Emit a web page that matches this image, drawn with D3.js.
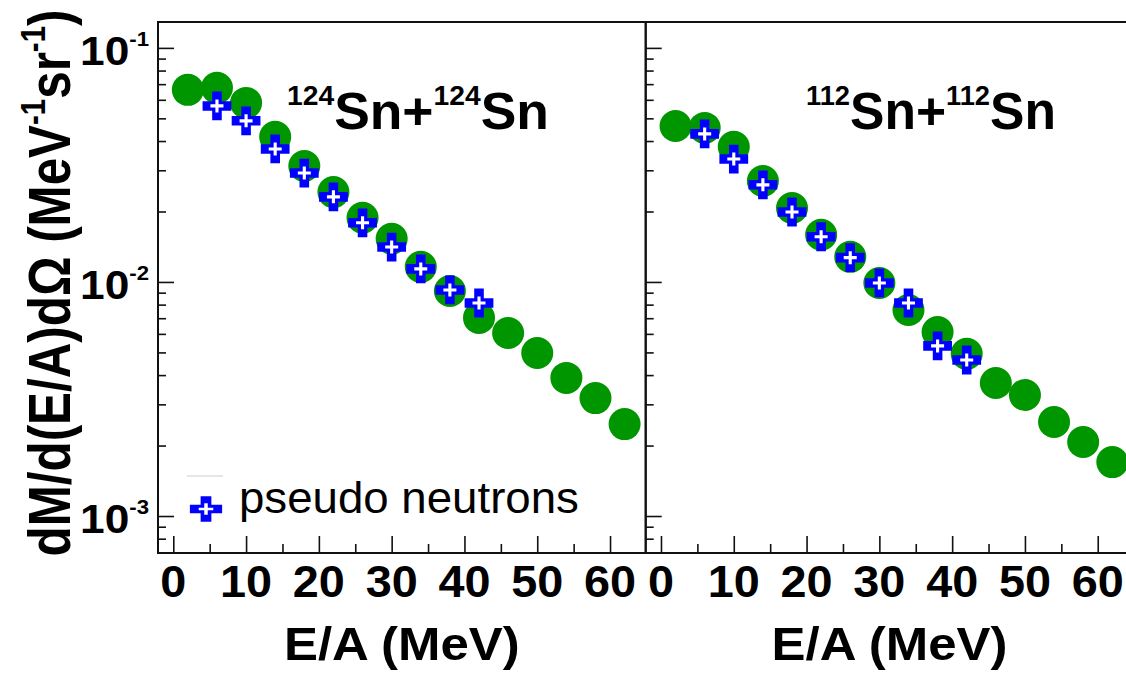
<!DOCTYPE html>
<html>
<head>
<meta charset="utf-8">
<script src="https://cdn.jsdelivr.net/npm/d3@7"></script>
<style>
  html, body { margin: 0; padding: 0; background: #fff; }
  svg { display: block; }
  text { font-family: "Liberation Sans", Arial, Helvetica, sans-serif; fill: #000; }
</style>
</head>
<body>
<script>
// Kinetic-energy bins (E/A, MeV) of the measured spectra and of the pseudo-neutron spectra
const energyBins = [2, 6, 10, 14, 18, 22, 26, 30, 34, 38, 42, 46, 50, 54, 58, 62];
const pseudoBins = [6, 10, 14, 18, 22, 26, 30, 34, 38, 42];

// dM/d(E/A)dΩ  (MeV^-1 sr^-1)
const sn124Yield  = [0.0662, 0.0675, 0.0582, 0.0417, 0.0313, 0.0242, 0.0188, 0.0153,
                     0.0116, 0.00915, 0.00702, 0.00605, 0.00497, 0.00389, 0.00319, 0.00247];
const sn124Pseudo = [0.0565, 0.0488, 0.0370, 0.0292, 0.0231, 0.0179, 0.0141, 0.01137,
                     0.00924, 0.00813];
const sn112Yield  = [0.0464, 0.0455, 0.0378, 0.0270, 0.0207, 0.0159, 0.0128, 0.00990,
                     0.00759, 0.00611, 0.00493, 0.00370, 0.00329, 0.00252, 0.00207, 0.00170];
const sn112Pseudo = [0.0429, 0.0335, 0.0260, 0.0199, 0.0156, 0.0127, 0.00990, 0.00813,
                     0.00533, 0.00464];

// Axis ticks and labels
const xTickValues = [0, 10, 20, 30, 40, 50, 60];
const xTickLabels = ["0", "10", "20", "30", "40", "50", "60"];
const yTickValues = [1e-1, 1e-2, 1e-3];
const yTickExponents = ["-1", "-2", "-3"];

// Reaction systems shown in the two panels
const systemMass = ["124", "112"];
const legendLabel = "pseudo neutrons";
const xTitle = "E/A (MeV)";

const width = 1126, height = 673;
const plotTop = 22, plotBottom = 553;
const panelWidth = 487.7;
const panelLeft = [158, 158 + panelWidth];
const green = "#009600", blue = "#0000ff";

const svg = d3.select("body").append("svg")
  .attr("width", width).attr("height", height)
  .attr("viewBox", `0 0 ${width} ${height}`);

const x = d3.scaleLinear().domain([-2.1, 64.9]).range([0, panelWidth]);
const y = d3.scaleLog().domain([6.95e-4, 0.129]).range([plotBottom, plotTop]);

// stretch a text element horizontally (about its anchor) to a given width
function fitText(sel, targetWidth, extra) {
  const w = sel.node().getBBox().width;
  sel.attr("transform", (extra || "") + ` scale(${targetWidth / w},1)`);
}

// thin plus drawn as a filled outline, used for the white centre of the cross markers
const thinPlus = {
  draw(ctx, size) {
    const r = Math.sqrt(size) / 2, t = r * 0.24;
    ctx.moveTo(-r, -t); ctx.lineTo(-t, -t); ctx.lineTo(-t, -r); ctx.lineTo(t, -r);
    ctx.lineTo(t, -t); ctx.lineTo(r, -t); ctx.lineTo(r, t); ctx.lineTo(t, t);
    ctx.lineTo(t, r); ctx.lineTo(-t, r); ctx.lineTo(-t, t); ctx.lineTo(-r, t);
    ctx.closePath();
  }
};
const crossPath = d3.symbol().type(d3.symbolCross).size(460)();
const plusPath = d3.symbol().type(thinPlus).size(169)();

// minor ticks of the log axis: 2..9 × each decade inside the domain
const yMinor = [];
[-4, -3, -2, -1].forEach(e => {
  for (let m = 2; m <= 9; m++) {
    const v = m * Math.pow(10, e);
    if (v > y.domain()[0] && v < y.domain()[1]) yMinor.push(v);
  }
});
const xMinor = d3.range(5, 60, 10);

const panels = [
  { yields: sn124Yield, pseudo: sn124Pseudo },
  { yields: sn112Yield, pseudo: sn112Pseudo }
];

panels.forEach((p, i) => {
  const g = svg.append("g").attr("transform", `translate(${panelLeft[i]},0)`);

  // axis ticks (pointing inward)
  const tickStyle = s => s.call(a => a.select(".domain").remove())
    .selectAll(".tick line").attr("stroke", "#111").attr("stroke-width", 1.6);

  g.append("g").attr("transform", `translate(0,${plotBottom})`)
    .call(d3.axisBottom(x).tickValues(xTickValues).tickSizeInner(-17).tickSizeOuter(0).tickFormat(""))
    .call(tickStyle);
  g.append("g").attr("transform", `translate(0,${plotBottom})`)
    .call(d3.axisBottom(x).tickValues(xMinor).tickSizeInner(-9).tickSizeOuter(0).tickFormat(""))
    .call(tickStyle);
  g.append("g")
    .call(d3.axisLeft(y).tickValues(yTickValues).tickSizeInner(-16).tickSizeOuter(0).tickFormat(""))
    .call(tickStyle);
  g.append("g")
    .call(d3.axisLeft(y).tickValues(yMinor).tickSizeInner(-8).tickSizeOuter(0).tickFormat(""))
    .call(tickStyle);

  // frame
  g.append("rect")
    .attr("x", 0).attr("y", plotTop)
    .attr("width", panelWidth).attr("height", plotBottom - plotTop)
    .attr("fill", "none").attr("stroke", "#111").attr("stroke-width", 2);

  // x tick labels
  xTickValues.forEach((v, k) => {
    const t = g.append("g").attr("transform", `translate(${x(v)},597)`)
      .append("text").attr("text-anchor", "middle")
      .attr("font-size", 45).attr("font-weight", "bold")
      .text(xTickLabels[k]);
    t.attr("transform", "scale(1.04,1)");
  });

  // x axis title
  const xt = g.append("g").attr("transform", `translate(${panelWidth / 2},660)`)
    .append("text").attr("text-anchor", "middle")
    .attr("font-size", 46).attr("font-weight", "bold").text(xTitle);
  fitText(xt, 236);

  // measured spectrum
  g.append("g").selectAll("circle").data(p.yields).join("circle")
    .attr("cx", (d, k) => x(energyBins[k]))
    .attr("cy", d => y(d))
    .attr("r", 16)
    .attr("fill", green);

  // pseudo-neutron spectrum
  const pm = g.append("g").selectAll("g").data(p.pseudo).join("g")
    .attr("transform", (d, k) => `translate(${x(pseudoBins[k])},${y(d)})`);
  pm.append("path").attr("d", crossPath).attr("fill", blue);
  pm.append("path").attr("d", plusPath).attr("fill", "#fff");

  // reaction label
  const tg = g.append("g").attr("transform", `translate(${(i === 0 ? 287 : 806) - panelLeft[i]},129)`);
  const tt = tg.append("text").attr("font-weight", "bold").attr("font-size", 51);
  tt.append("tspan").attr("font-size", 27).attr("dy", -24).text(systemMass[i]);
  tt.append("tspan").attr("dy", 24).text("Sn+");
  tt.append("tspan").attr("font-size", 27).attr("dy", -24).text(systemMass[i]);
  tt.append("tspan").attr("dy", 24).text("Sn");
  fitText(tt, i === 0 ? 262 : 250);
});

// y tick labels (left panel only)
yTickValues.forEach((v, k) => {
  const t = svg.append("g").attr("transform", `translate(149,${y(v) + 17})`)
    .append("text").attr("text-anchor", "end")
    .attr("font-size", 40).attr("font-weight", "bold");
  t.append("tspan").text("10");
  t.append("tspan").attr("font-size", 20).attr("dy", -19).text(yTickExponents[k]);
  fitText(t, 69);
});

// y axis title
const yt = svg.append("g").attr("transform", "translate(70,283)")
  .append("text").attr("text-anchor", "middle")
  .attr("font-size", 52).attr("font-weight", "bold");
yt.append("tspan").text("dM/d(E/A)d\u03A9 (MeV");
yt.append("tspan").attr("font-size", 31).attr("dy", -22).text("-1");
yt.append("tspan").attr("dy", 22).text("sr");
yt.append("tspan").attr("font-size", 31).attr("dy", -22).text("-1");
yt.append("tspan").attr("dy", 22).text(")");
fitText(yt, 547, "rotate(-90)");
yt.attr("transform", yt.attr("transform").replace(/scale\(([^,]+),1\)/, "scale($1,1.15)"));

// legend
const lg = svg.append("g");
lg.append("line").attr("x1", 187).attr("x2", 223).attr("y1", 476).attr("y2", 476)
  .attr("stroke", "#ccc").attr("stroke-width", 1);
const lm = lg.append("g").attr("transform", "translate(206,509) scale(1.12,0.88)");
lm.append("path").attr("d", crossPath).attr("fill", blue);
lm.append("path").attr("d", plusPath).attr("fill", "#fff");
const lt = lg.append("g").attr("transform", "translate(239,513)")
  .append("text").attr("font-size", 44).text(legendLabel);
fitText(lt, 340);
</script>
</body>
</html>
